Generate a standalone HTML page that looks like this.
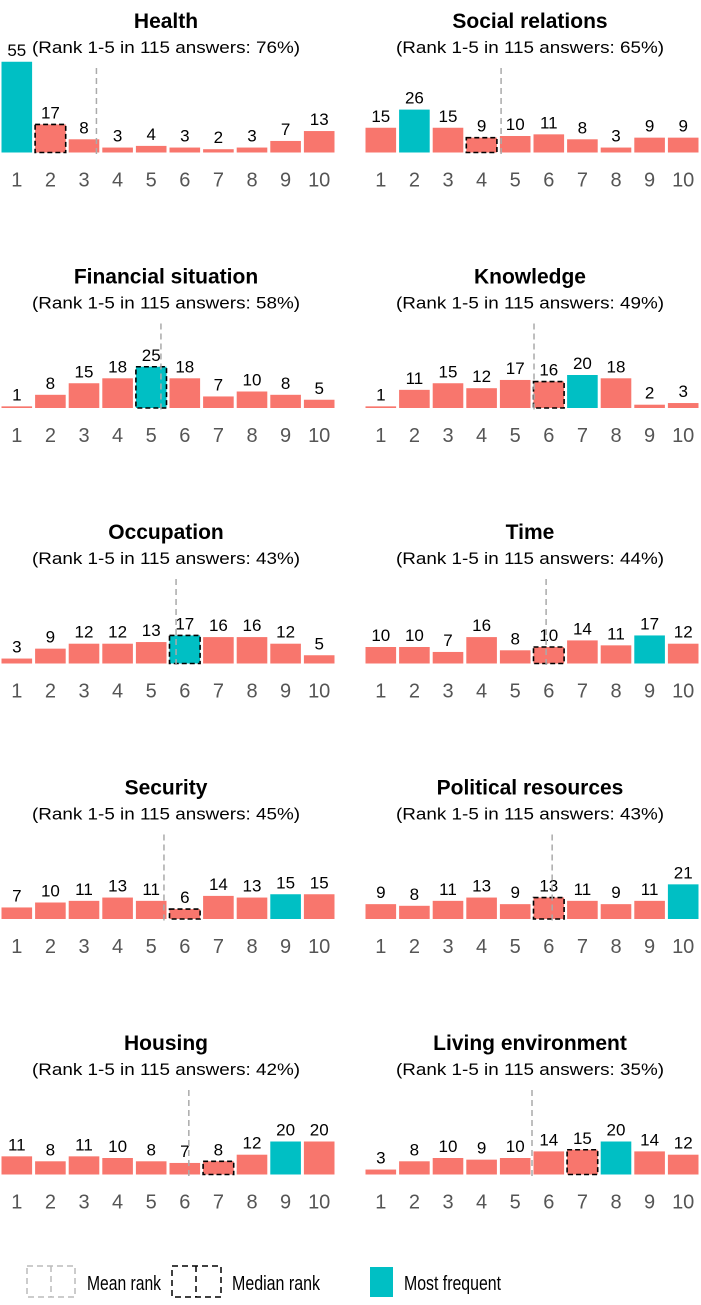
<!DOCTYPE html>
<html><head><meta charset="utf-8"><style>
body{margin:0;background:#fff;width:701px;height:1300px;overflow:hidden;font-family:"Liberation Sans",Arial,sans-serif}
</style></head><body>
<svg id="c" width="701" height="1300" xmlns="http://www.w3.org/2000/svg" font-family="Liberation Sans, Arial, sans-serif">
<g>
<rect x="27" y="1266" width="48" height="31" fill="none" stroke="#bbb" stroke-width="1.5" stroke-dasharray="6,4"/>
<line x1="51" y1="1266" x2="51" y2="1297" stroke="#bbb" stroke-width="1.5" stroke-dasharray="6,4"/>
<text x="87" y="1290" font-size="20" fill="#000" textLength="74" lengthAdjust="spacingAndGlyphs">Mean rank</text>
<rect x="172" y="1266" width="49" height="31" fill="none" stroke="#000" stroke-width="1.5" stroke-dasharray="6,4"/>
<line x1="196" y1="1266" x2="196" y2="1297" stroke="#000" stroke-width="1.5" stroke-dasharray="6,4"/>
<text x="232" y="1290" font-size="20" fill="#000" textLength="88" lengthAdjust="spacingAndGlyphs">Median rank</text>
<rect x="370" y="1267" width="23" height="30" fill="#00BFC4"/>
<text x="404" y="1290" font-size="20" fill="#000" textLength="97" lengthAdjust="spacingAndGlyphs">Most frequent</text>
</g>
</svg>
<script>
const titles=["Health","Social relations","Financial situation","Knowledge","Occupation","Time","Security","Political resources","Housing","Living environment"];
const pcts=[76,65,58,49,43,44,45,43,42,35];
const counts=[
[55,17,8,3,4,3,2,3,7,13],
[15,26,15,9,10,11,8,3,9,9],
[1,8,15,18,25,18,7,10,8,5],
[1,11,15,12,17,16,20,18,2,3],
[3,9,12,12,13,17,16,16,12,5],
[10,10,7,16,8,10,14,11,17,12],
[7,10,11,13,11,6,14,13,15,15],
[9,8,11,13,9,13,11,9,11,21],
[11,8,11,10,8,7,8,12,20,20],
[3,8,10,9,10,14,15,20,14,12]];
const means=[3.37,4.58,5.29,5.56,5.74,5.92,5.38,6.1,6.12,5.5];
const medians=[2,4,5,6,6,6,6,6,7,7];
const ranks=[1,2,3,4,5,6,7,8,9,10];
const svg=document.getElementById('c');
const NS="http://www.w3.org/2000/svg";
const W=33.6, PX=1.65;
function mk(t,a){const e=document.createElementNS(NS,t);for(const k in a)e.setAttribute(k,a[k]);svg.appendChild(e);return e;}
function xs(p,r){return (p%2===0?0:364)+(r-1)*W;}
function ys(v){return v*PX;}
titles.forEach((t,p)=>{
 const left=p%2===0?0:364, cx=left+166, top=(Math.floor(p/2))*255.5, base=top+152.5;
 const ti=mk('text',{x:cx,y:top+28,'font-size':21,'font-weight':'bold','text-anchor':'middle'});ti.textContent=t;
 
 
 const st=mk('text',{x:cx,y:top+53,'font-size':17,'text-anchor':'middle',textLength:268,lengthAdjust:'spacingAndGlyphs'});st.textContent="(Rank 1-5 in 115 answers: "+pcts[p]+"%)";
 
 
 const vals=counts[p]; const mx=Math.max(...vals); const mode=vals.indexOf(mx)+1;
 ranks.forEach((r,i)=>{
  const v=vals[i], x=xs(p,r)+1.5, h=ys(v);
  const b=mk('rect',{x:x,y:base-h,width:W-3,height:h,fill:r===mode?'#00BFC4':'#F8766D'});
  
  
  if(r===medians[p]){const m=mk('rect',{x:x,y:base-h,width:W-3,height:h,fill:'none',stroke:'#000','stroke-width':1.6,'stroke-dasharray':'5,3'});
   
   }
  const lb=mk('text',{x:x+(W-3)/2,y:base-h-6,'font-size':17,'text-anchor':'middle'});lb.textContent=v;
  
  
  const xl=mk('text',{x:x+(W-3)/2,y:base+34,'font-size':20,'text-anchor':'middle',fill:'#555'});xl.textContent=r;
  
  
 });
 const mxp=left+(means[p]-0.5)*W;
 const ml=mk('line',{x1:mxp,y1:top+68,x2:mxp,y2:base+2,stroke:'#aaa','stroke-width':1.5,'stroke-dasharray':'6,4'});
 
 
});
</script>
</body></html>
